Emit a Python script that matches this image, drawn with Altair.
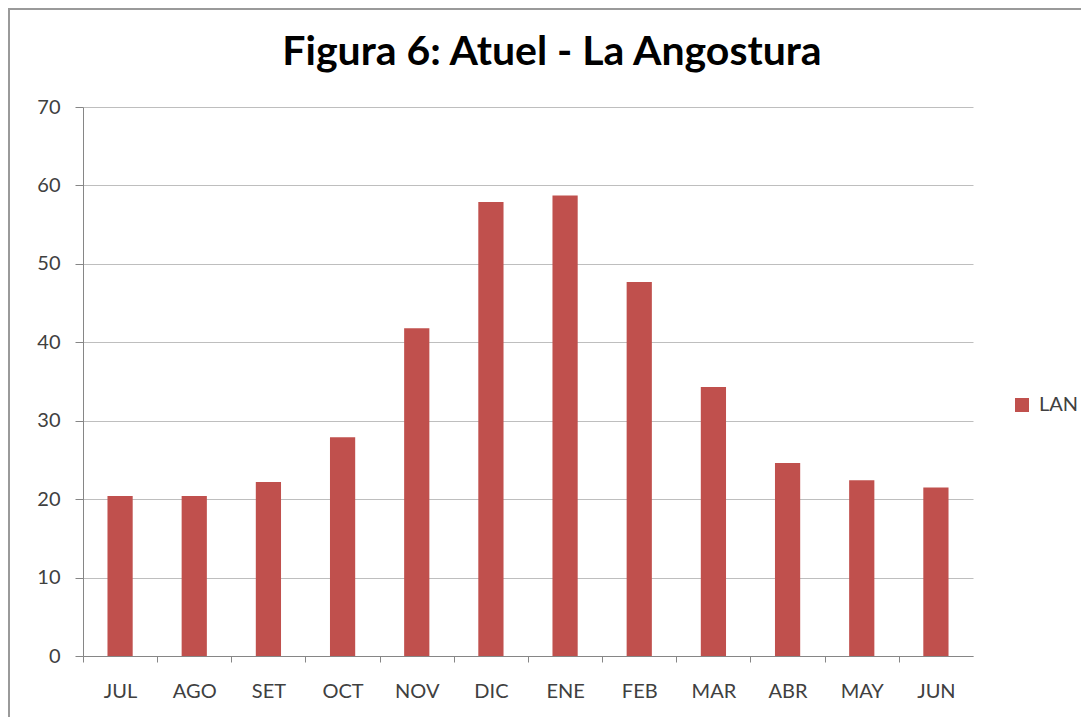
import altair as alt
import pandas as pd

months = ["JUL", "AGO", "SET", "OCT", "NOV", "DIC", "ENE", "FEB", "MAR", "ABR", "MAY", "JUN"]
values = [20.4, 20.4, 22.2, 27.9, 41.8, 57.9, 58.7, 47.7, 34.3, 24.6, 22.4, 21.5]
series = ["LAN"] * len(months)
y_ticks = [0, 10, 20, 30, 40, 50, 60, 70]
title_text = ["Figura 6: Atuel - La Angostura"]

df = pd.DataFrame({"mes": months, "valor": values, "serie": series})
tdf = pd.DataFrame({"t": title_text})

FONT = "Lato"
STEP = 890 / 12

bars = alt.Chart(df).mark_bar(color="#C0504D").encode(
    x=alt.X("mes:N", sort=months, title=None,
            scale=alt.Scale(paddingInner=0.66, paddingOuter=0.33),
            axis=alt.Axis(labelAngle=0, tickOffset=-STEP / 2, labelOffset=STEP / 2,
                          tickSize=6, labelPadding=19,
                          domainColor="#868686", tickColor="#868686", grid=False,
                          labelFont=FONT, labelFontSize=20, labelColor="#404040")),
    y=alt.Y("valor:Q", title=None,
            scale=alt.Scale(domain=[0, 70], nice=False),
            axis=alt.Axis(values=y_ticks, tickSize=8, labelPadding=15,
                          domainColor="#868686", tickColor="#868686",
                          gridColor="#BEBEBE", gridWidth=1,
                          labelFont=FONT, labelFontSize=20, labelColor="#404040")),
    color=alt.Color("serie:N", scale=alt.Scale(range=["#C0504D"]),
                    legend=alt.Legend(title=None, orient="none", legendX=929, legendY=288,
                                      symbolType="square", symbolSize=196, symbolStrokeWidth=0,
                                      labelFont=FONT, labelFontSize=20, labelColor="#404040",
                                      padding=0, labelOffset=7)),
)

title = alt.Chart(tdf).mark_text(font=FONT, fontSize=41, fontWeight="bold", color="#000000",
                                 align="center", baseline="alphabetic").encode(
    text="t:N", x=alt.value(469), y=alt.value(-42)
)

border_top = alt.Chart(tdf).mark_rule(color="#9A9A9A", strokeWidth=2).encode(
    x=alt.value(-75), x2=alt.value(1000), y=alt.value(-98), y2=alt.value(-98)
)
border_left = alt.Chart(tdf).mark_rule(color="#9A9A9A", strokeWidth=2).encode(
    x=alt.value(-74), x2=alt.value(-74), y=alt.value(-98), y2=alt.value(620)
)

chart = alt.layer(bars, title, border_top, border_left).properties(
    width=890, height=549,
    autosize=alt.AutoSizeParams(type="none"),
    padding={"left": 75, "top": 99, "right": 108, "bottom": 61},
).configure_view(stroke=None)

chart.save("out.html", embed_options={"renderer": "svg", "actions": False})
